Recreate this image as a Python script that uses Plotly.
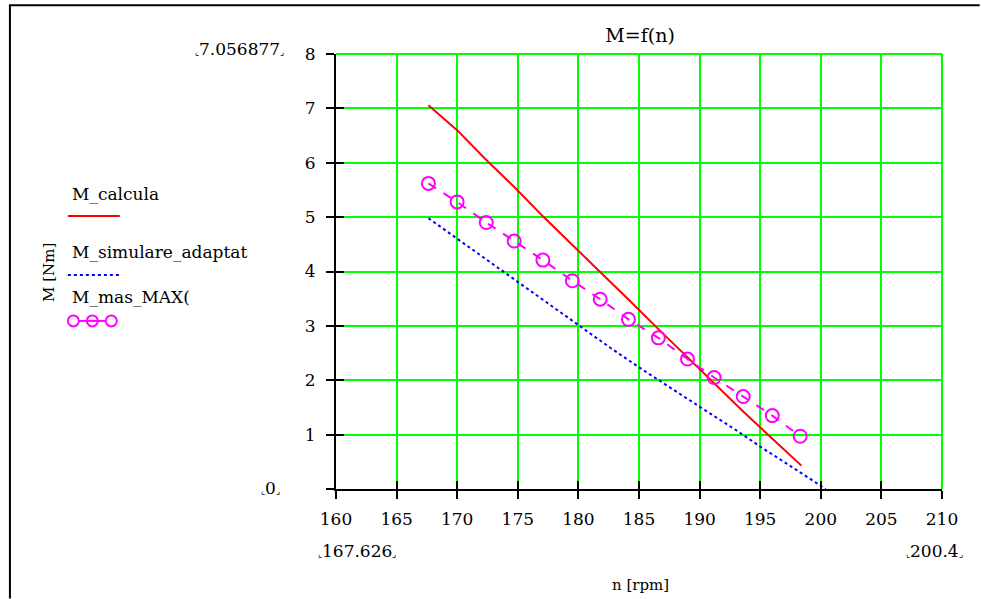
import plotly.graph_objects as go

# ---------------- data ----------------
n_calc = [167.626, 169.993, 172.360, 174.727, 177.094, 179.461, 181.828,
          184.195, 186.562, 188.929, 191.296, 193.663, 196.030, 198.400]
M_calcula = [7.057, 6.60, 6.06, 5.55, 5.01, 4.50, 3.98,
             3.47, 2.95, 2.44, 1.92, 1.41, 0.92, 0.43]

n_sim = [167.626, 170.15, 172.67, 175.19, 177.71, 180.23, 182.74,
         185.26, 187.78, 190.30, 192.82, 195.34, 197.86, 200.40]
M_simulare_adaptat = [4.98, 4.58, 4.18, 3.78, 3.38, 2.97, 2.58,
                      2.20, 1.83, 1.47, 1.11, 0.73, 0.37, 0.00]

n_mas = [167.626, 169.99, 172.40, 174.70, 177.07, 179.50, 181.80,
         184.13, 186.60, 189.00, 191.20, 193.60, 196.00, 198.30]
M_mas_MAX = [5.62, 5.28, 4.90, 4.56, 4.21, 3.83, 3.49,
             3.12, 2.78, 2.39, 2.05, 1.70, 1.35, 0.97]

x_ticks = [160, 165, 170, 175, 180, 185, 190, 195, 200, 205, 210]
y_ticks = [0, 1, 2, 3, 4, 5, 6, 7, 8]
legend_names = ["M_calcula", "M_simulare_adaptat", "M_mas_MAX("]

FONT = "DejaVu Serif"
W, H = 981, 599
L, R, T, B = 335.5, 942.3, 53.7, 489.3


def px(x):
    return (x - L) / (R - L)


def py(y):
    return (B - y) / (B - T)


fig = go.Figure()
fig.add_trace(go.Scatter(x=n_calc, y=M_calcula, mode="lines", name=legend_names[0],
                         line=dict(color="#FF0000", width=2)))
fig.add_trace(go.Scatter(x=n_sim, y=M_simulare_adaptat, mode="lines", name=legend_names[1],
                         line=dict(color="#0000FF", width=2, dash="dot")))
fig.add_trace(go.Scatter(x=n_mas, y=M_mas_MAX, mode="lines+markers", name=legend_names[2],
                         line=dict(color="#FF00FF", width=2, dash="dash"),
                         marker=dict(symbol="circle-open", size=13, color="#FF00FF",
                                     line=dict(width=2, color="#FF00FF"))))
# helper trace for inner tick marks
fig.add_trace(go.Scatter(x=[None], y=[None], xaxis="x2", yaxis="y2",
                         showlegend=False, hoverinfo="skip"))

axis_common = dict(showline=True, linecolor="black", linewidth=2,
                   ticks="outside", ticklen=8, tickwidth=2, tickcolor="black",
                   showgrid=True, gridcolor="#00FF00", gridwidth=2,
                   zeroline=False,
                   tickfont=dict(family=FONT, size=17, color="black"))

fig.update_layout(
    width=W, height=H,
    margin=dict(l=L, r=W - R, t=T, b=H - B, pad=0),
    paper_bgcolor="white", plot_bgcolor="white",
    showlegend=False,
    font=dict(family=FONT, color="black"),
    title=dict(text="M=f(n)", x=px(640), xref="paper", xanchor="center",
               y=1 - 35 / H, yref="container", yanchor="middle",
               font=dict(family=FONT, size=19, color="black")),
    xaxis=dict(range=[160, 210], tickvals=x_ticks, ticktext=[str(v) for v in x_ticks],
               ticklabelstandoff=6, **axis_common),
    yaxis=dict(range=[0, 8], tickvals=y_ticks,
               ticktext=["" if v == 0 else str(v) for v in y_ticks],
               ticklabelstandoff=7, **axis_common),
    xaxis2=dict(overlaying="x", matches="x", range=[160, 210], tickvals=x_ticks,
                ticks="inside", ticklen=8, tickwidth=2, tickcolor="black",
                showticklabels=False, showgrid=False, zeroline=False, showline=False,
                side="bottom"),
    yaxis2=dict(overlaying="y", matches="y", range=[0, 8], tickvals=y_ticks,
                ticks="inside", ticklen=8, tickwidth=2, tickcolor="black",
                showticklabels=False, showgrid=False, zeroline=False, showline=False,
                side="left"),
)

shapes = []
# top and right grid borders (green)
shapes.append(dict(type="line", xref="paper", yref="paper", x0=0, x1=1, y0=1, y1=1,
                   line=dict(color="#00FF00", width=2), layer="below"))
shapes.append(dict(type="line", xref="paper", yref="paper", x0=1, x1=1, y0=0, y1=1,
                   line=dict(color="#00FF00", width=2), layer="below"))
# outer frame: left and top edges as one open path
frame_path = "M {:.5f},{:.5f} L {:.5f},{:.5f} L {:.5f},{:.5f}".format(
    px(9), py(599), px(9), py(5), px(980), py(5))
shapes.append(dict(type="path", xref="paper", yref="paper", path=frame_path,
                   line=dict(color="black", width=2)))
# legend samples
shapes.append(dict(type="line", xref="paper", yref="paper", x0=px(67), x1=px(119),
                   y0=py(216), y1=py(216), line=dict(color="#FF0000", width=2)))
shapes.append(dict(type="line", xref="paper", yref="paper", x0=px(67), x1=px(119),
                   y0=py(275), y1=py(275), line=dict(color="#0000FF", width=2, dash="dot")))
for cx in (72.5, 91.5, 110.5):
    shapes.append(dict(type="circle", xref="paper", yref="paper",
                       x0=px(cx - 5.5), x1=px(cx + 5.5), y0=py(321 + 5.5), y1=py(321 - 5.5),
                       line=dict(color="#FF00FF", width=2)))
shapes.append(dict(type="line", xref="paper", yref="paper", x0=px(78), x1=px(105),
                   y0=py(321), y1=py(321), line=dict(color="#FF00FF", width=2)))
fig.update_layout(shapes=shapes)

corner_l = "<span style='font-size:9px'>\u231e</span>"
corner_r = "<span style='font-size:9px'>\u231f</span>"


def ann(text, x, y, size=17, xanchor="center", textangle=0):
    return dict(text=text, x=px(x), y=py(y), xref="paper", yref="paper",
                xanchor=xanchor, yanchor="middle", showarrow=False, textangle=textangle,
                font=dict(family=FONT, size=size, color="black"))


annotations = [
    ann("n [rpm]", 640, 585, size=15),
    ann("M [Nm]", 48, 272, size=15, textangle=-90),
    ann(legend_names[0], 69, 194, size=17, xanchor="left"),
    ann(legend_names[1], 69, 252, size=17, xanchor="left"),
    ann(legend_names[2], 69, 297, size=17, xanchor="left"),
    ann(corner_l + "7.056877" + corner_r, 239, 49, size=17),
    ann(corner_l + "0" + corner_r, 270, 488, size=17),
    ann(corner_l + "167.626" + corner_r, 357, 551, size=17),
    ann(corner_l + "200.4" + corner_r, 935, 551, size=17),
]
fig.update_layout(annotations=annotations)

fig.write_html("out.html", config={"displayModeBar": False})

with open("out.html", "r", encoding="utf-8") as f:
    html = f.read()
html = html.replace("<head>", "<head><style>html,body{margin:0;padding:0;overflow:hidden;}</style>", 1)
with open("out.html", "w", encoding="utf-8") as f:
    f.write(html)
